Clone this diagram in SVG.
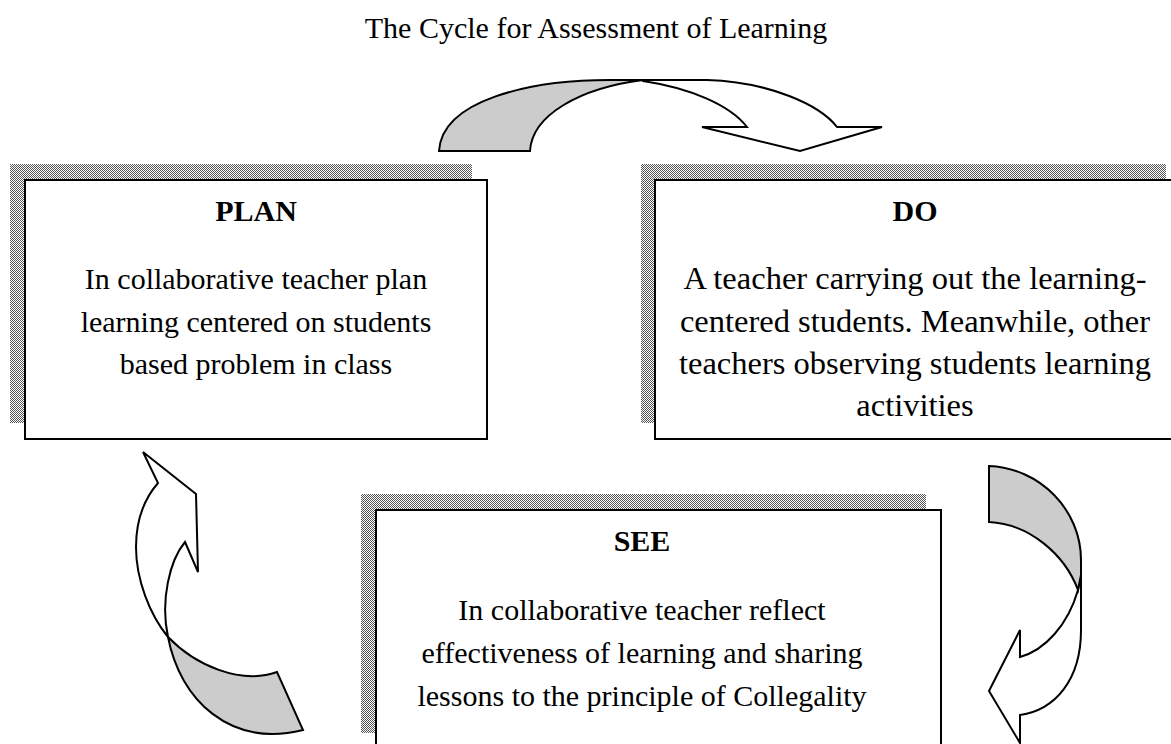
<svg xmlns="http://www.w3.org/2000/svg" width="1171" height="744" viewBox="0 0 1171 744">
<defs>
<pattern id="dots" width="2" height="2" patternUnits="userSpaceOnUse">
<rect width="2" height="2" fill="#ffffff"/>
<rect width="1" height="1" fill="#555555"/>
<rect x="1" y="1" width="1" height="1" fill="#555555"/>
</pattern>
<style>
.shadow{fill:url(#dots);stroke:none}
.box{fill:#ffffff;stroke:#000;stroke-width:2}
.ttl{font-family:"Liberation Serif","Times New Roman",serif;font-size:30px;font-weight:bold;text-anchor:middle;fill:#000}
.txt{font-family:"Liberation Serif","Times New Roman",serif;font-size:30px;text-anchor:middle;fill:#000}
.big{font-size:32.5px}
.head{font-size:30px}
.gray{fill:#cccccc;stroke:#000;stroke-width:2;stroke-linejoin:miter}
.white{fill:#ffffff;stroke:#000;stroke-width:2;stroke-linejoin:miter}
</style>
</defs>
<rect width="1171" height="744" fill="#ffffff"/>
<text x="596" y="38" class="txt head">The Cycle for Assessment of Learning</text>

<g id="connectors">
<g id="arrow-plan-do">
<path class="white" d="M643,80 L707,80 C770,82 820,105 837,127 L882,127 L800,151 L702,127 L747,127 C730,105 690,88 643,81 Z"/>
<path class="gray" d="M439,151 C442,100 530,80 610,80 L643,80 C580,88 532,115 530,151 Z"/>
</g>
<g id="arrow-do-see">
<path class="white" d="M1078,590 L1081,572 L1081,630 C1081,680 1055,710 1020,715 L1020,743 L989,691 L1020,630 L1020,657 C1045,650 1068,625 1078,590 Z"/>
<path class="gray" d="M989,466 C1040,468 1081,510 1081,560 L1081,575 L1078,590 C1065,555 1030,524 989,522 Z"/>
</g>
<g id="arrow-see-plan">
<path class="white" d="M168,637 C150,615 136,580 136,547 C136,520 145,498 158,483 L143,452 L196,494 L198,572 L185,542 C170,560 160,600 168,637 Z"/>
<path class="gray" d="M168,637 C195,665 240,685 277,672 L303,730 C230,748 180,700 168,637 Z"/>
</g>
</g>

<g id="node-plan">
<rect class="shadow" x="10" y="164" width="462" height="259"/>
<rect class="box" x="25" y="180" width="462" height="259"/>
<text x="256" y="221" class="ttl">PLAN</text>
<text x="256" y="289" class="txt">In collaborative teacher plan</text>
<text x="256" y="332" class="txt">learning centered on students</text>
<text x="256" y="374" class="txt">based problem in class</text>
</g>

<g id="node-do">
<rect class="shadow" x="641" y="164" width="525" height="259"/>
<rect class="box" x="655" y="180" width="525" height="259"/>
<text x="915" y="221" class="ttl">DO</text>
<text x="915" y="289" class="txt big">A teacher carrying out the learning-</text>
<text x="915" y="332" class="txt big">centered students. Meanwhile, other</text>
<text x="915" y="374" class="txt big">teachers observing students learning</text>
<text x="915" y="416" class="txt big">activities</text>
</g>

<g id="node-see">
<rect class="shadow" x="361" y="494" width="565" height="239"/>
<rect class="box" x="376" y="510" width="565" height="250"/>
<text x="642" y="551" class="ttl">SEE</text>
<text x="642" y="620" class="txt">In collaborative teacher reflect</text>
<text x="642" y="663" class="txt">effectiveness of learning and sharing</text>
<text x="642" y="706" class="txt">lessons to the principle of Collegality</text>
</g>
</svg>
